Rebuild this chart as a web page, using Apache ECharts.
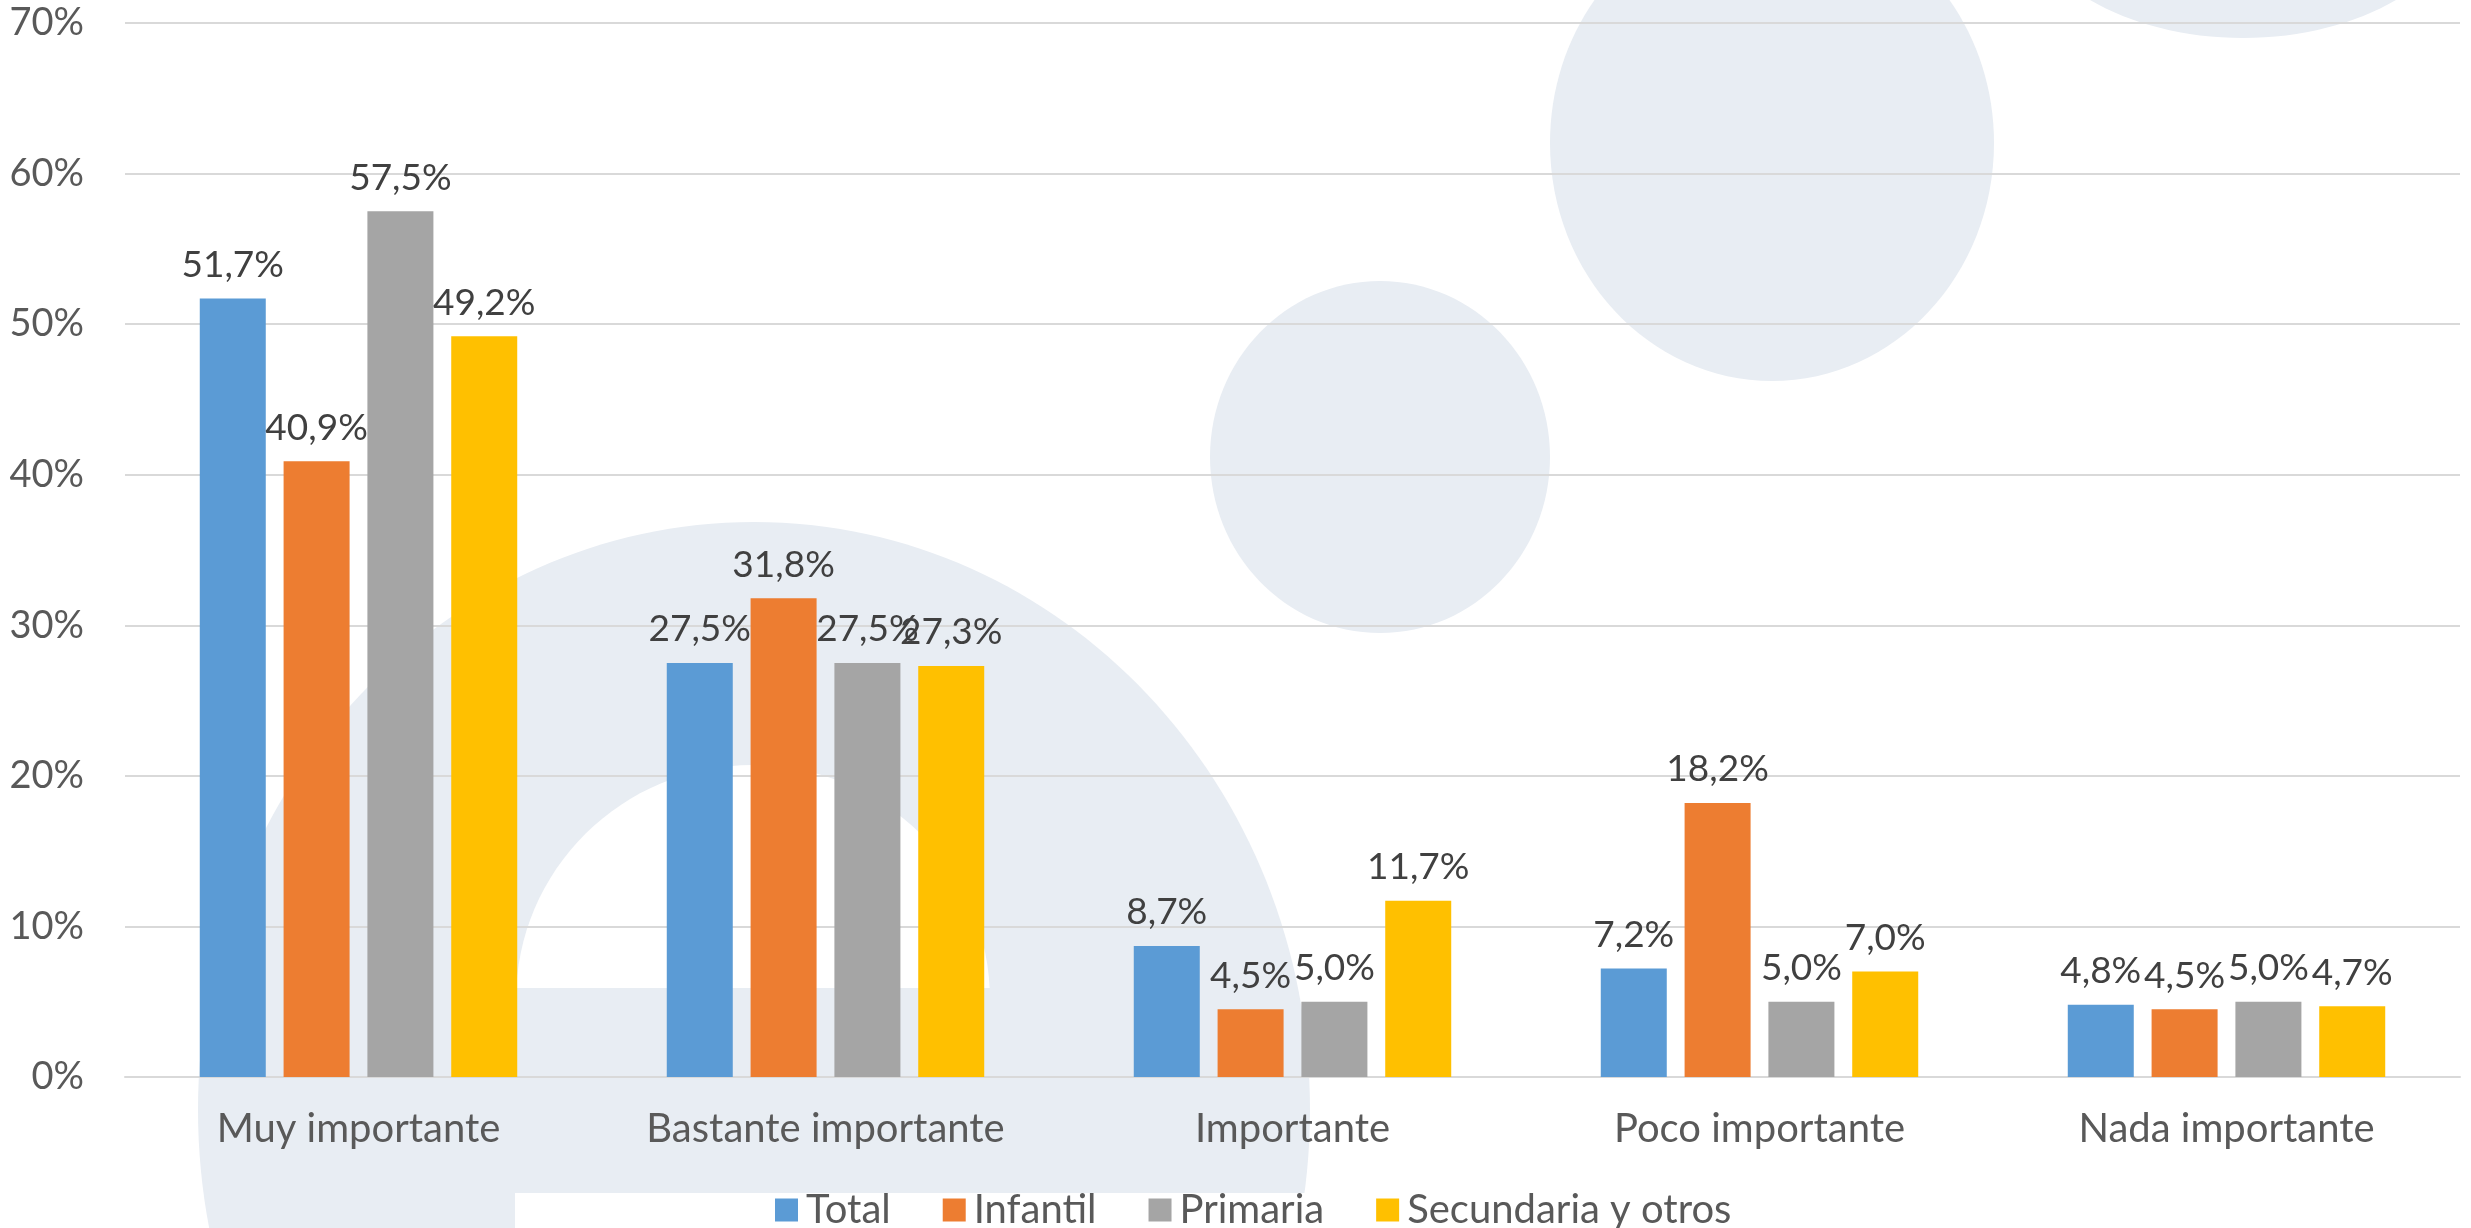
<!DOCTYPE html>
<html lang="es">
<head>
    <meta charset="utf-8">
    <title>Importancia</title>
    <script type="text/javascript" src="https://cdn.jsdelivr.net/npm/echarts@6/dist/echarts.min.js"></script>
    <style>
        html, body { margin: 0; padding: 0; background: #ffffff; }
        #chartMain { width: 2471px; height: 1228px; }
    </style>
</head>
<body>
    <div id="chartMain"></div>
    <script type="text/javascript">
        var categories = ['Muy importante', 'Bastante importante', 'Importante', 'Poco importante', 'Nada importante'];
        var seriesNames = ['Total', 'Infantil', 'Primaria', 'Secundaria y otros'];
        var total = [51.7, 27.5, 8.7, 7.2, 4.8];
        var infantil = [40.9, 31.8, 4.5, 18.2, 4.5];
        var primaria = [57.5, 27.5, 5.0, 5.0, 5.0];
        var secundaria = [49.2, 27.3, 11.7, 7.0, 4.7];
        var colors = ['#5B9BD5', '#ED7D31', '#A5A5A5', '#FFC000'];

        var font = 'Lato, "Open Sans", sans-serif';
        var shade = '#E8EDF3';

        function pct(v) {
            return v.toFixed(1).replace('.', ',') + '%';
        }

        function makeSeries(name, data) {
            return {
                name: name,
                type: 'bar',
                data: data,
                barWidth: 66,
                barGap: '27%',
                label: {
                    show: true,
                    position: 'top',
                    distance: 15,
                    color: '#404040',
                    fontFamily: font,
                    fontSize: 37,
                    formatter: function (p) { return pct(p.value); }
                }
            };
        }

        var chart = echarts.init(document.getElementById('chartMain'));
        chart.setOption({
            backgroundColor: '#ffffff',
            color: colors,
            animation: false,
            // light background watermark shapes
            graphic: [
                { type: 'ellipse', z: -10, shape: { cx: 754, cy: 1110, rx: 556, ry: 588 }, style: { fill: shade } },
                { type: 'ellipse', z: -10, shape: { cx: 753, cy: 1000, rx: 237, ry: 235 }, style: { fill: '#ffffff' } },
                { type: 'rect', z: -10, shape: { x: 514, y: 988, width: 478, height: 205 }, style: { fill: shade } },
                { type: 'rect', z: -10, shape: { x: 515, y: 1193, width: 850, height: 40 }, style: { fill: '#ffffff' } },
                { type: 'ellipse', z: -10, shape: { cx: 1380, cy: 457, rx: 170, ry: 176 }, style: { fill: shade } },
                { type: 'ellipse', z: -10, shape: { cx: 1772, cy: 143, rx: 222, ry: 238 }, style: { fill: shade } },
                { type: 'ellipse', z: -10, shape: { cx: 2243, cy: -112, rx: 230, ry: 150 }, style: { fill: shade } }
            ],
            grid: {
                left: 125,
                right: 11,
                top: 23,
                bottom: 151,
                containLabel: false
            },
            legend: {
                data: seriesNames,
                left: 770,
                top: 1185,
                icon: 'rect',
                itemWidth: 23,
                itemHeight: 23,
                itemGap: 52,
                textStyle: {
                    color: '#595959',
                    fontFamily: font,
                    fontSize: 40,
                    padding: [0, 0, 0, 3]
                }
            },
            xAxis: {
                type: 'category',
                data: categories,
                axisLine: { lineStyle: { color: '#D9D9D9', width: 2 } },
                axisTick: { show: false },
                axisLabel: {
                    color: '#595959',
                    fontFamily: font,
                    fontSize: 40,
                    margin: 32
                }
            },
            yAxis: {
                type: 'value',
                min: 0,
                max: 70,
                interval: 10,
                axisLine: { show: false },
                axisTick: { show: false },
                splitLine: { lineStyle: { color: '#D9D9D9', width: 2 } },
                axisLabel: {
                    color: '#595959',
                    fontFamily: font,
                    fontSize: 38,
                    margin: 41,
                    formatter: '{value}%'
                }
            },
            series: [
                makeSeries(seriesNames[0], total),
                makeSeries(seriesNames[1], infantil),
                makeSeries(seriesNames[2], primaria),
                makeSeries(seriesNames[3], secundaria)
            ]
        });
    </script>
</body>
</html>
